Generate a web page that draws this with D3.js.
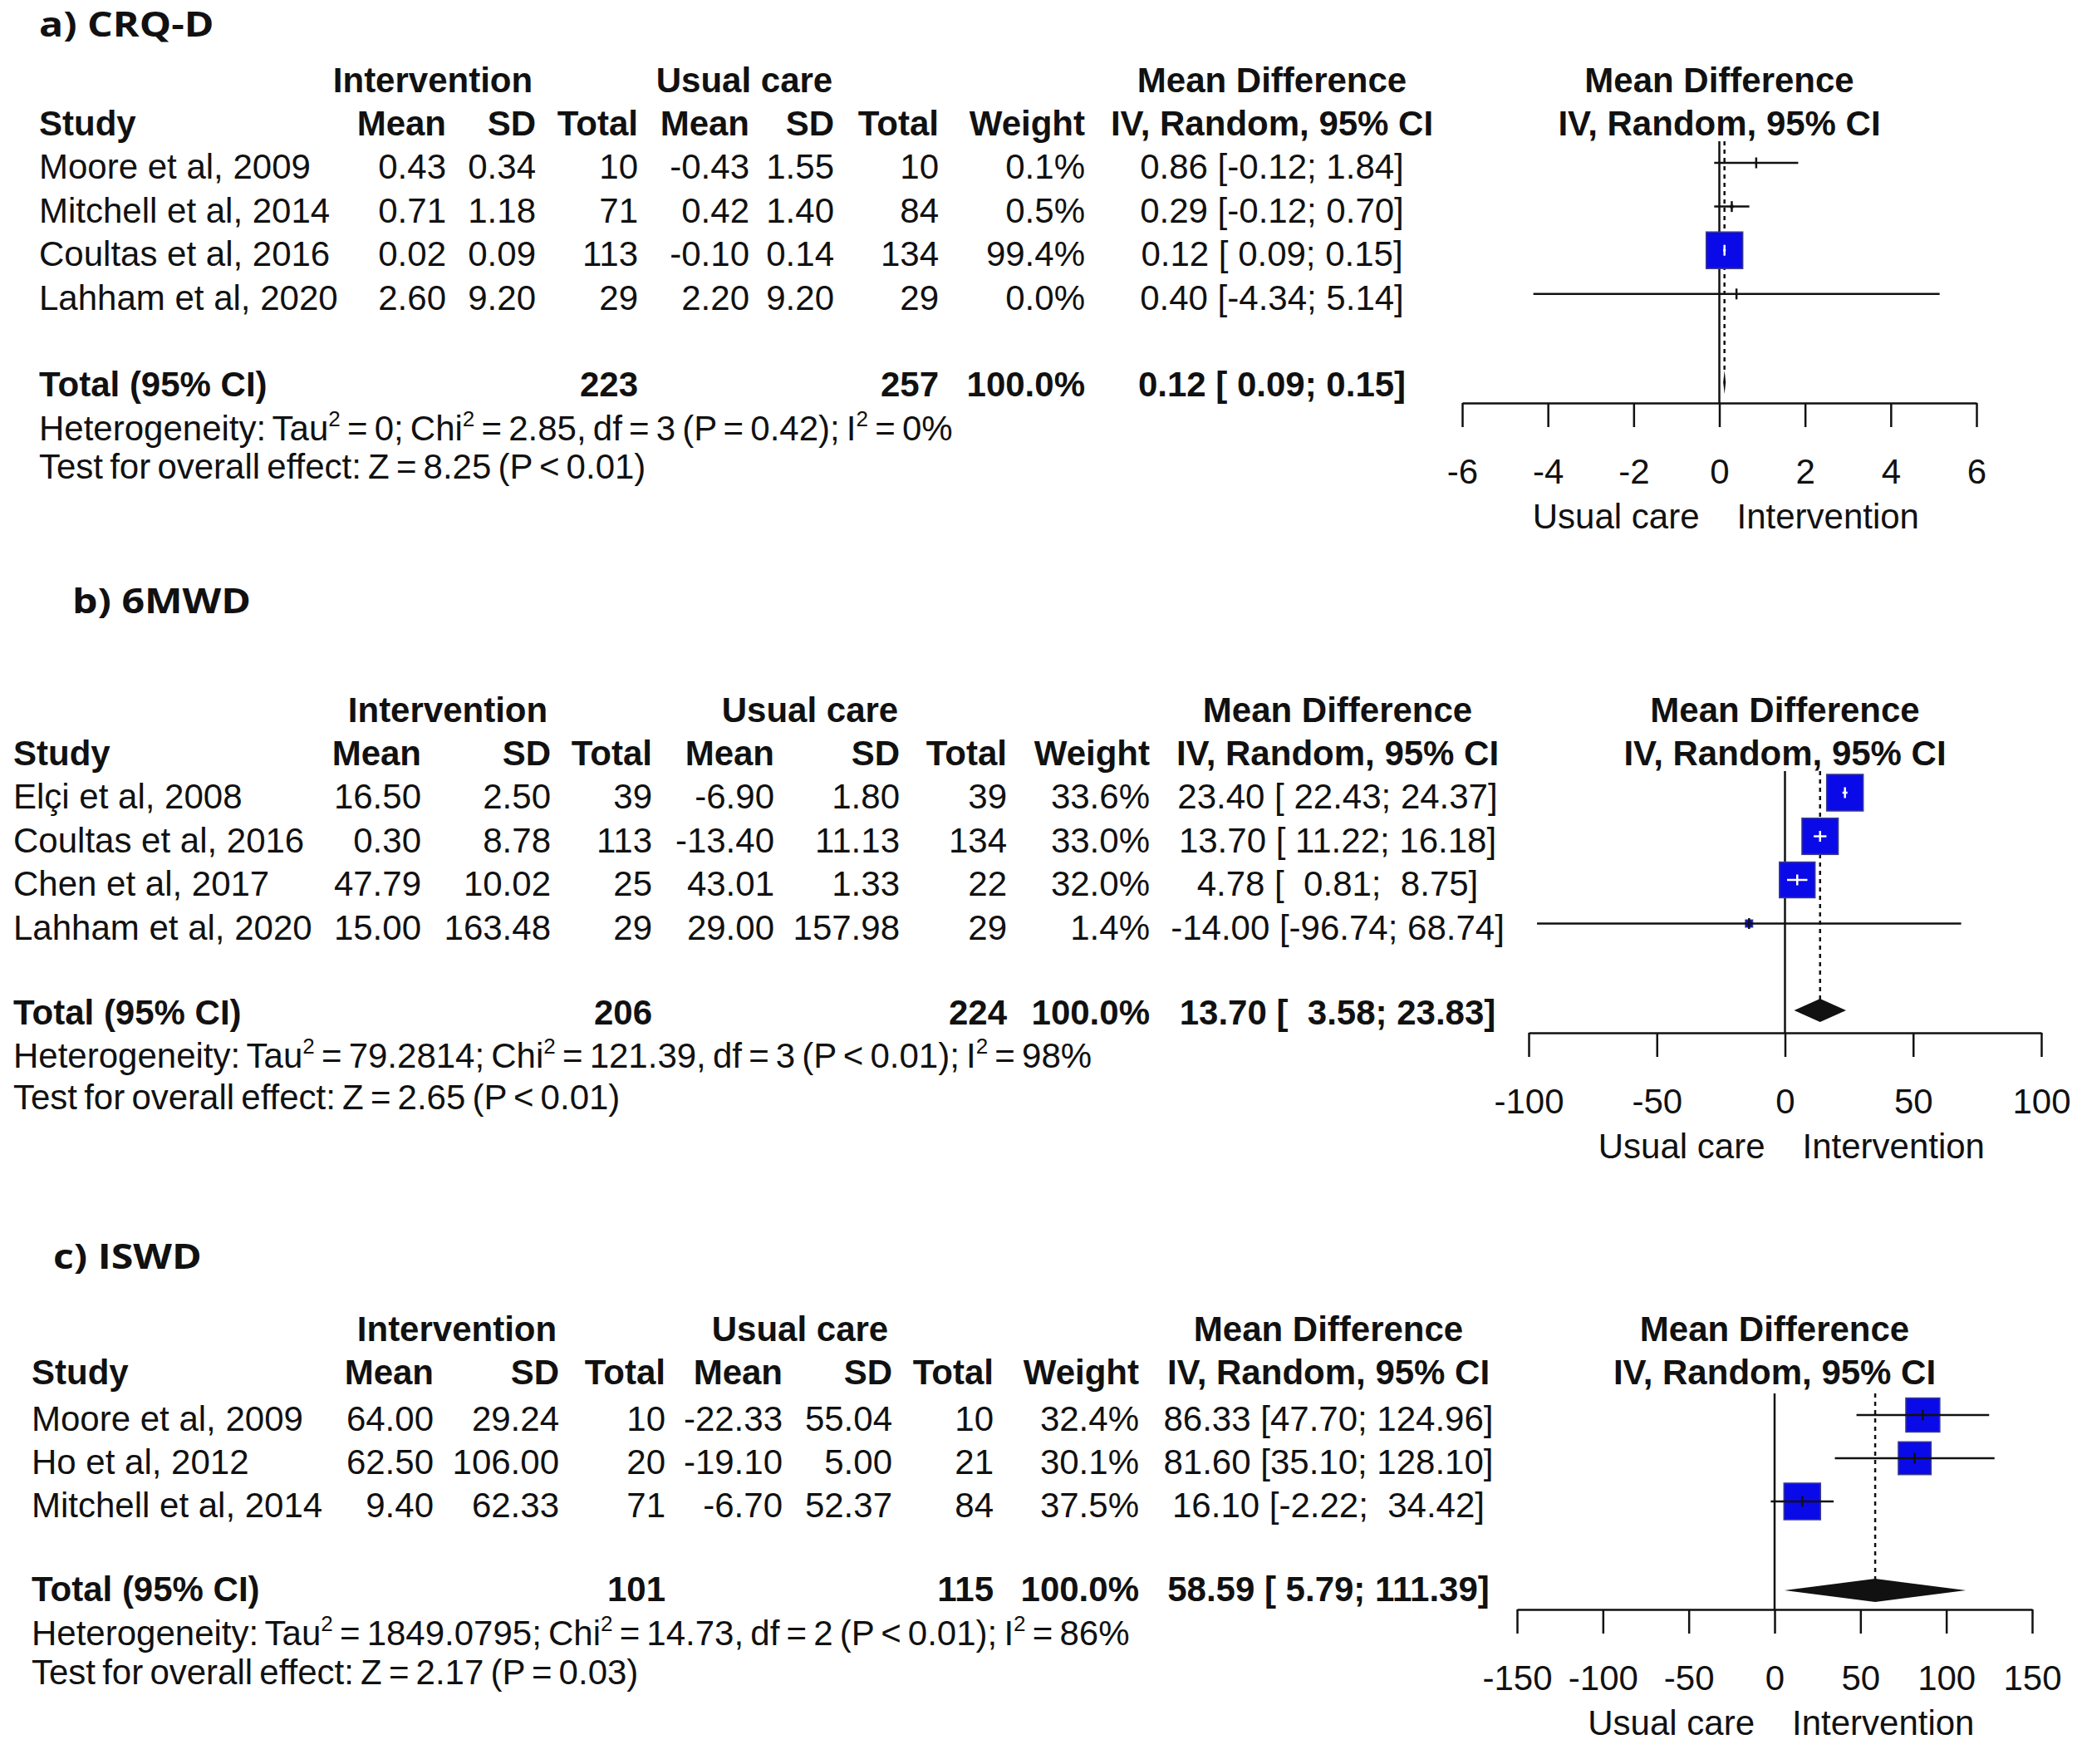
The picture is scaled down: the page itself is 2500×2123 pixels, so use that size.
<!DOCTYPE html>
<html>
<head>
<meta charset="utf-8">
<script src="https://cdn.jsdelivr.net/npm/d3@7"></script>
<style>
  body { margin: 0; background: #fff; }
  text { font-family: "Liberation Sans", Arial, sans-serif; fill: #111; }
</style>
</head>
<body>
<svg id="chart"></svg>
<script>
// ---- a) CRQ-D
var crqStudies = ["Moore et al, 2009", "Mitchell et al, 2014", "Coultas et al, 2016", "Lahham et al, 2020"];
var crqIntMean = [0.43, 0.71, 0.02, 2.60];
var crqIntSD = [0.34, 1.18, 0.09, 9.20];
var crqIntN = [10, 71, 113, 29];
var crqUcMean = [-0.43, 0.42, -0.10, 2.20];
var crqUcSD = [1.55, 1.40, 0.14, 9.20];
var crqUcN = [10, 84, 134, 29];
var crqWeight = [0.1, 0.5, 99.4, 0.0];
var crqMD = [0.86, 0.29, 0.12, 0.40];
var crqLower = [-0.12, -0.12, 0.09, -4.34];
var crqUpper = [1.84, 0.70, 0.15, 5.14];
var crqTotalN = [223, 257];
var crqPooled = [0.12, 0.09, 0.15];
var crqHet = ["0", "2.85", "3", "P = 0.42", "0%"];
var crqTest = ["8.25", "P < 0.01"];
var crqTicks = [-6, -4, -2, 0, 2, 4, 6];

// ---- b) 6MWD
var mwdStudies = ["Elçi et al, 2008", "Coultas et al, 2016", "Chen et al, 2017", "Lahham et al, 2020"];
var mwdIntMean = [16.50, 0.30, 47.79, 15.00];
var mwdIntSD = [2.50, 8.78, 10.02, 163.48];
var mwdIntN = [39, 113, 25, 29];
var mwdUcMean = [-6.90, -13.40, 43.01, 29.00];
var mwdUcSD = [1.80, 11.13, 1.33, 157.98];
var mwdUcN = [39, 134, 22, 29];
var mwdWeight = [33.6, 33.0, 32.0, 1.4];
var mwdMD = [23.40, 13.70, 4.78, -14.00];
var mwdLower = [22.43, 11.22, 0.81, -96.74];
var mwdUpper = [24.37, 16.18, 8.75, 68.74];
var mwdTotalN = [206, 224];
var mwdPooled = [13.70, 3.58, 23.83];
var mwdHet = ["79.2814", "121.39", "3", "P < 0.01", "98%"];
var mwdTest = ["2.65", "P < 0.01"];
var mwdTicks = [-100, -50, 0, 50, 100];

// ---- c) ISWD
var iswStudies = ["Moore et al, 2009", "Ho et al, 2012", "Mitchell et al, 2014"];
var iswIntMean = [64.00, 62.50, 9.40];
var iswIntSD = [29.24, 106.00, 62.33];
var iswIntN = [10, 20, 71];
var iswUcMean = [-22.33, -19.10, -6.70];
var iswUcSD = [55.04, 5.00, 52.37];
var iswUcN = [10, 21, 84];
var iswWeight = [32.4, 30.1, 37.5];
var iswMD = [86.33, 81.60, 16.10];
var iswLower = [47.70, 35.10, -2.22];
var iswUpper = [124.96, 128.10, 34.42];
var iswTotalN = [101, 115];
var iswPooled = [58.59, 5.79, 111.39];
var iswHet = ["1849.0795", "14.73", "2", "P < 0.01", "86%"];
var iswTest = ["2.17", "P = 0.03"];
var iswTicks = [-150, -100, -50, 0, 50, 100, 150];

var svgWidth = 2500;
var svgHeight = 2123;
var fontSize = 42;
var maxBox = 44;

var svg = d3.select("#chart")
    .attr("width", svgWidth)
    .attr("height", svgHeight);

svg.append("rect")
    .attr("width", svgWidth)
    .attr("height", svgHeight)
    .attr("fill", "white");

// Panels: data from the arrays above plus the layout of each block
var panels = [
    {
        title: "a) CRQ-D", titleX: 47, titleY: 44,
        studies: crqStudies, intMean: crqIntMean, intSD: crqIntSD, intN: crqIntN,
        ucMean: crqUcMean, ucSD: crqUcSD, ucN: crqUcN, weight: crqWeight,
        md: crqMD, lower: crqLower, upper: crqUpper, totalN: crqTotalN, pooled: crqPooled,
        het: crqHet, test: crqTest, ticks: crqTicks,
        h1: 111, h2: 163, row0: 196, rowStep: 52.6, totalY: 460, totalBase: 477, hetY: 530, testY: 576,
        cols: { study: 47, intMean: 537, intSD: 645, intN: 768, ucMean: 902, ucSD: 1004, ucN: 1130, weight: 1306, ci: 1531, intHdr: 521, ucHdr: 896 },
        plotX: [1760, 2379], axisY: 485
    },
    {
        title: "b) 6MWD", titleX: 87, titleY: 738,
        studies: mwdStudies, intMean: mwdIntMean, intSD: mwdIntSD, intN: mwdIntN,
        ucMean: mwdUcMean, ucSD: mwdUcSD, ucN: mwdUcN, weight: mwdWeight,
        md: mwdMD, lower: mwdLower, upper: mwdUpper, totalN: mwdTotalN, pooled: mwdPooled,
        het: mwdHet, test: mwdTest, ticks: mwdTicks,
        h1: 869, h2: 921, row0: 954, rowStep: 52.5, totalY: 1216, totalBase: 1233, hetY: 1285, testY: 1335,
        cols: { study: 16, intMean: 507, intSD: 663, intN: 785, ucMean: 932, ucSD: 1083, ucN: 1212, weight: 1384, ci: 1610, intHdr: 539, ucHdr: 975 },
        plotX: [1840, 2457], axisY: 1243
    },
    {
        title: "c) ISWD", titleX: 64, titleY: 1527,
        studies: iswStudies, intMean: iswIntMean, intSD: iswIntSD, intN: iswIntN,
        ucMean: iswUcMean, ucSD: iswUcSD, ucN: iswUcN, weight: iswWeight,
        md: iswMD, lower: iswLower, upper: iswUpper, totalN: iswTotalN, pooled: iswPooled,
        het: iswHet, test: iswTest, ticks: iswTicks,
        h1: 1614, h2: 1666, row0: 1703, rowStep: 52, totalY: 1914, totalBase: 1927, hetY: 1980, testY: 2027,
        cols: { study: 38, intMean: 522, intSD: 673, intN: 801, ucMean: 942, ucSD: 1074, ucN: 1196, weight: 1371, ci: 1599, intHdr: 550, ucHdr: 963 },
        plotX: [1826, 2446], axisY: 1937
    }
];

function fmt2(v) { return v.toFixed(2); }
function padTo(s, n) { while (s.length < n) s = " " + s; return s; }

// Add one line of table text
function addText(g, x, y, str, anchor, bold) {
    return g.append("text")
        .attr("x", x)
        .attr("y", y)
        .attr("text-anchor", anchor || "start")
        .attr("font-size", fontSize)
        .attr("font-weight", bold ? "bold" : "normal")
        .style("white-space", "pre")
        .text(str);
}

// Heterogeneity line, with the superscript 2s
function addHetText(g, x, y, het) {
    var t = g.append("text")
        .attr("x", x)
        .attr("y", y)
        .attr("font-size", fontSize)
        .attr("word-spacing", -3.5);
    var parts = [
        "Heterogeneity: Tau",
        " = " + het[0] + "; Chi",
        " = " + het[1] + ", df = " + het[2] + " (" + het[3] + "); I",
        " = " + het[4]
    ];
    parts.forEach(function(p, i) {
        // drop back to the baseline after a superscript
        t.append("tspan").attr("dy", i > 0 ? 17 : 0).text(p);
        if (i < parts.length - 1) {
            t.append("tspan").attr("font-size", 26).attr("dy", -17).text("2");
        }
    });
}

function drawPanel(p) {
    var g = svg.append("g");
    var c = p.cols;

    // Panel title
    g.append("text")
        .attr("transform", `translate(${p.titleX}, ${p.titleY}) scale(1.15, 1)`)
        .attr("font-size", 42)
        .attr("font-weight", "bold")
        .style("font-family", "'Open Sans', 'Noto Sans', sans-serif")
        .text(p.title);

    // Header lines
    addText(g, c.intHdr, p.h1, "Intervention", "middle", true);
    addText(g, c.ucHdr, p.h1, "Usual care", "middle", true);
    addText(g, c.ci, p.h1, "Mean Difference", "middle", true);
    addText(g, c.study, p.h2, "Study", "start", true);
    addText(g, c.intMean, p.h2, "Mean", "end", true);
    addText(g, c.intSD, p.h2, "SD", "end", true);
    addText(g, c.intN, p.h2, "Total", "end", true);
    addText(g, c.ucMean, p.h2, "Mean", "end", true);
    addText(g, c.ucSD, p.h2, "SD", "end", true);
    addText(g, c.ucN, p.h2, "Total", "end", true);
    addText(g, c.weight, p.h2, "Weight", "end", true);
    addText(g, c.ci, p.h2, "IV, Random, 95% CI", "middle", true);

    // Width of the bounds for padding, like the R output
    var wl = d3.max(p.lower, d => fmt2(d).length);
    var wh = d3.max(p.upper, d => fmt2(d).length);
    function ciText(m, l, h) {
        return fmt2(m) + " [" + padTo(fmt2(l), wl) + "; " + padTo(fmt2(h), wh) + "]";
    }

    var rowY = d3.scaleLinear().domain([0, 1]).range([p.row0, p.row0 + p.rowStep]);

    // Study rows
    p.studies.forEach(function(s, i) {
        var yb = rowY(i) + 19;
        addText(g, c.study, yb, s);
        addText(g, c.intMean, yb, fmt2(p.intMean[i]), "end");
        addText(g, c.intSD, yb, fmt2(p.intSD[i]), "end");
        addText(g, c.intN, yb, p.intN[i], "end");
        addText(g, c.ucMean, yb, fmt2(p.ucMean[i]), "end");
        addText(g, c.ucSD, yb, fmt2(p.ucSD[i]), "end");
        addText(g, c.ucN, yb, p.ucN[i], "end");
        addText(g, c.weight, yb, p.weight[i].toFixed(1) + "%", "end");
        addText(g, c.ci, yb, ciText(p.md[i], p.lower[i], p.upper[i]), "middle");
    });

    // Total row
    addText(g, c.study, p.totalBase, "Total (95% CI)", "start", true);
    addText(g, c.intN, p.totalBase, p.totalN[0], "end", true);
    addText(g, c.ucN, p.totalBase, p.totalN[1], "end", true);
    addText(g, c.weight, p.totalBase, "100.0%", "end", true);
    addText(g, c.ci, p.totalBase, ciText(p.pooled[0], p.pooled[1], p.pooled[2]), "middle", true);

    addHetText(g, c.study, p.hetY, p.het);
    addText(g, c.study, p.testY, "Test for overall effect: Z = " + p.test[0] + " (" + p.test[1] + ")")
        .attr("word-spacing", -3.5);

    // ---- Forest plot
    var dom = d3.extent(p.ticks);
    var x = d3.scaleLinear().domain(dom).range(p.plotX);
    var mid = (p.plotX[0] + p.plotX[1]) / 2;

    addText(g, mid, p.h1, "Mean Difference", "middle", true);
    addText(g, mid, p.h2, "IV, Random, 95% CI", "middle", true);

    var top = p.row0 - 26;

    // Line of no effect
    g.append("line")
        .attr("x1", x(0)).attr("x2", x(0))
        .attr("y1", top).attr("y2", p.axisY)
        .attr("stroke", "#111").attr("stroke-width", 2.5);

    // Pooled estimate (dotted)
    g.append("line")
        .attr("x1", x(p.pooled[0])).attr("x2", x(p.pooled[0]))
        .attr("y1", top).attr("y2", p.totalY - 13)
        .attr("stroke", "#111").attr("stroke-width", 2.5)
        .attr("stroke-dasharray", "5,5");

    var wMax = d3.max(p.weight);
    p.studies.forEach(function(s, i) {
        var cy = rowY(i);
        var side = maxBox * Math.sqrt(p.weight[i] / wMax);
        var cx = x(p.md[i]);
        var inside = x(p.lower[i]) >= cx - side / 2 && x(p.upper[i]) <= cx + side / 2;
        var col = inside ? "white" : "#111";

        if (side > 0) {
            g.append("rect")
                .attr("x", cx - side / 2)
                .attr("y", cy - side / 2)
                .attr("width", side)
                .attr("height", side)
                .attr("fill", "#0a0ae8")
                .attr("stroke", "#3a3a90")
                .attr("stroke-width", side > 10 ? 1.5 : 1);
        }
        g.append("line")
            .attr("x1", x(p.lower[i])).attr("x2", x(p.upper[i]))
            .attr("y1", cy).attr("y2", cy)
            .attr("stroke", col).attr("stroke-width", 2.5);
        g.append("line")
            .attr("x1", cx).attr("x2", cx)
            .attr("y1", cy - 6.5).attr("y2", cy + 6.5)
            .attr("stroke", col).attr("stroke-width", 2.5);
    });

    // Diamond for the pooled effect
    var dy = 14;
    g.append("polygon")
        .attr("points", [
            [x(p.pooled[1]), p.totalY],
            [x(p.pooled[0]), p.totalY - dy],
            [x(p.pooled[2]), p.totalY],
            [x(p.pooled[0]), p.totalY + dy]
        ].map(d => d.join(",")).join(" "))
        .attr("fill", "#111");

    // Axis
    var axis = g.append("g")
        .attr("transform", `translate(0, ${p.axisY})`)
        .call(d3.axisBottom(x).tickValues(p.ticks).tickSize(29).tickSizeOuter(0).tickFormat(d3.format("d")));
    axis.select(".domain").attr("stroke", "#111").attr("stroke-width", 2.5);
    axis.selectAll(".tick line").attr("stroke", "#111").attr("stroke-width", 2.5);
    axis.selectAll(".tick text")
        .attr("y", 97)
        .attr("dy", 0)
        .attr("font-size", fontSize)
        .attr("font-family", "'Liberation Sans', Arial, sans-serif")
        .attr("fill", "#111")
        .text(d => d < 0 ? "-" + Math.abs(d) : d);

    addText(g, x(0) - 24, p.axisY + 151, "Usual care", "end");
    addText(g, x(0) + 21, p.axisY + 151, "Intervention", "start");
}

panels.forEach(drawPanel);
</script>
</body>
</html>
